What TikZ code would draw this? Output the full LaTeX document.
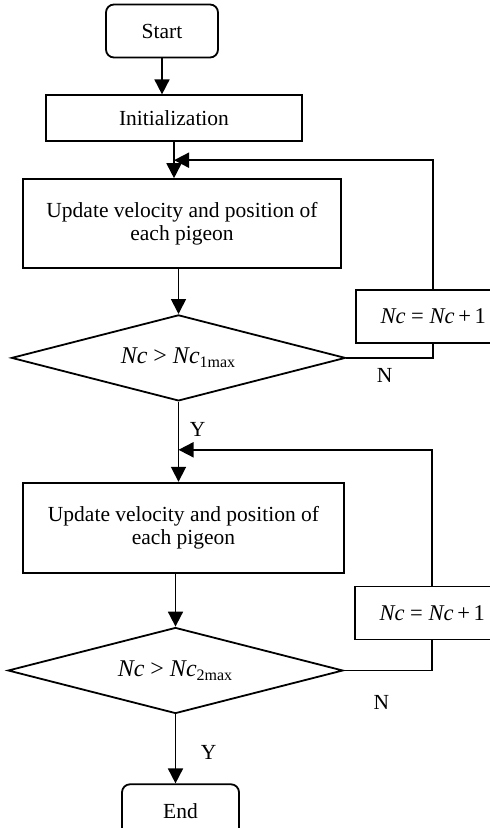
\documentclass[tikz,border=0pt]{standalone}
\usepackage{fontspec}
\setmainfont{Liberation Serif}
\usetikzlibrary{arrows.meta,positioning,shapes.geometric,calc}
\tikzset{
  txt/.style={font=\fontsize{10.75pt}{11.8pt}\selectfont, align=center, inner sep=0pt},
  term/.style={txt, draw, rounded corners=4pt, line width=0.9pt, minimum width=56pt, minimum height=26.5pt},
  proc/.style={txt, draw, line width=0.9pt},
  decide/.style={txt, draw, diamond, aspect=3.87, line width=0.9pt, minimum width=167pt, minimum height=43pt,
    font=\fontsize{12pt}{13pt}\selectfont},
  count/.style={proc, minimum width=77pt, minimum height=26.5pt, font=\fontsize{11.25pt}{12pt}\selectfont},
  lbl/.style={txt},
  arr/.style={-{Triangle[length=7.5pt,width=7.5pt]}, line width=0.9pt},
  ln/.style={line width=0.9pt},
}
\newcommand{\nc}{\textit{Nc}}

\begin{document}
\begin{tikzpicture}
\useasboundingbox (0,0) rectangle (244.5pt,-414pt);

% main column
\node[term] (start) at (81pt,-15.5pt) {Start};
\node[proc, below=18pt of start, xshift=6pt, minimum width=128pt, minimum height=23pt] (init) {Initialization};
\node[proc, below=18pt of init, xshift=4pt, minimum width=159pt, minimum height=44.5pt] (upd1)
  {Update velocity and position of\\each pigeon};
\node[decide, below=22.5pt of upd1, xshift=-1.75pt] (dec1) {\nc\ > \nc\textsubscript{1max}};
\node[proc, below=40pt of dec1, xshift=2.5pt, minimum width=160.5pt, minimum height=45pt] (upd2)
  {Update velocity and position of\\each pigeon};
\node[decide, below=26.5pt of upd2, xshift=-4pt, minimum width=167.5pt] (dec2) {\nc\ > \nc\textsubscript{2max}};
\node[term, below=34.5pt of dec2, xshift=2.5pt, minimum width=58.5pt, minimum height=27pt] (end) {End};

% counter boxes
\node[count, right=4.5pt of dec1, yshift=20.75pt] (inc1) {\nc\ = \nc\,+\,1};
\node[count, right=5pt of dec2, yshift=28.75pt, minimum width=77.5pt] (inc2) {\nc\ = \nc\,+\,1};

% join points on the trunk
\coordinate (j1) at ($(init.south)!0.5!(init.south |- upd1.north)$);
\coordinate (j2) at ($(dec1.south)!0.6!(dec1.south |- upd2.north)$);

% arrows
\draw[arr] (start.south) -- (start.south |- init.north);
\draw[arr] (init.south) -- (init.south |- upd1.north);
\draw[arr] (dec1.north |- upd1.south) -- (dec1.north);
\draw[arr] (dec1.south) -- (dec1.south |- upd2.north);
\draw[arr] (dec2.north |- upd2.south) -- (dec2.north);
\draw[arr] (dec2.south) -- (dec2.south |- end.north);

% loops
\draw[ln] (dec1.east) -| (inc1.south);
\draw[arr] (inc1.north) |- (j1);
\draw[ln] (dec2.east) -| (inc2.south);
\draw[arr] (inc2.north) |- (j2);

% branch labels
\node[lbl, below right=10pt and 5.5pt of dec1.south] (y1) {Y};
\node[lbl, right=15pt of dec1.east, yshift=-9pt] (n1) {N};
\node[lbl, below right=15.5pt and 12.5pt of dec2.south] (y2) {Y};
\node[lbl, right=14.7pt of dec2.east, yshift=-16pt] (n2) {N};

\end{tikzpicture}
\end{document}
